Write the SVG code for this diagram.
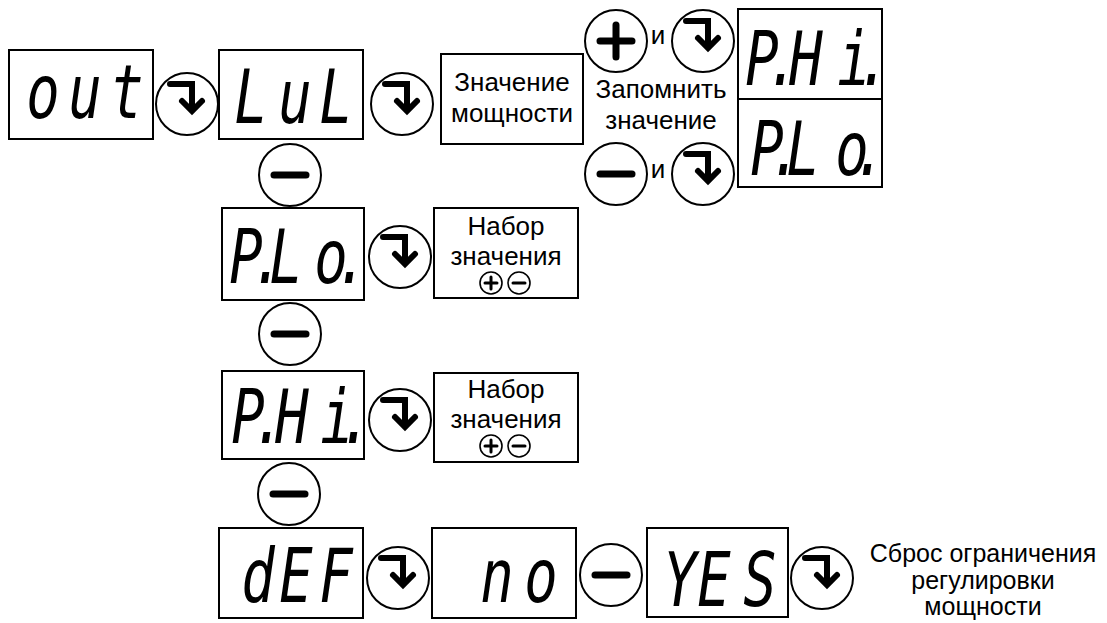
<svg xmlns="http://www.w3.org/2000/svg" xmlns:xlink="http://www.w3.org/1999/xlink" width="1107" height="623" viewBox="0 0 1107 623">
<style>
.box{fill:#fff;stroke:#000;stroke-width:2}
.btn{fill:#fff;stroke:#000;stroke-width:2}
.ico{fill:none;stroke:#000;stroke-width:6;stroke-linecap:round;stroke-linejoin:miter}
.sbtn{fill:#fff;stroke:#000;stroke-width:1.6}
.sico{fill:none;stroke:#000;stroke-width:3;stroke-linecap:round}
.lbl{font-family:"Liberation Sans",Arial,sans-serif;font-size:26px;text-anchor:middle;fill:#000}
.note{font-family:"Liberation Sans",Arial,sans-serif;font-size:25px;text-anchor:middle;fill:#000}
.seg{font-family:"DejaVu Sans Mono","Liberation Mono",monospace;font-style:oblique;font-size:74px;text-anchor:middle;fill:#000}
</style>
<defs>
<g id="enter"><circle class="btn" r="31"/><path class="ico" d="M-17,-20 H5 V5"/><path class="ico" d="M-5,-3 L5,7 L15,-3"/></g>
<g id="minus"><circle class="btn" r="31"/><path class="ico" d="M-16,0 H16" style="stroke-width:7"/></g>
<g id="plus"><circle class="btn" r="31"/><path class="ico" d="M-16,0 H16 M0,-16 V16" style="stroke-width:7"/></g>
<g id="splus"><circle class="sbtn" r="11"/><path class="sico" d="M-6,0 H6 M0,-6 V6"/></g>
<g id="sminus"><circle class="sbtn" r="11"/><path class="sico" d="M-6,0 H6"/></g>
</defs>

<g id="node-out"><rect class="box" x="9" y="50" width="144" height="89"/>
<text class="seg" transform="scale(0.75,1)" x="57.3 113.3 169.3" y="118">out</text></g>

<g id="node-LuL"><rect class="box" x="219" y="50" width="144" height="89"/>
<text class="seg" transform="scale(0.75,1)" x="334.7 393.3 448" y="123">LuL</text></g>

<g id="node-power"><rect class="box" x="441" y="54" width="142" height="90"/>
<text class="lbl" x="512" y="91">Значение</text>
<text class="lbl" x="512" y="122">мощности</text></g>

<g id="node-save"><text class="lbl" x="661" y="98">Запомнить</text>
<text class="lbl" x="661" y="129">значение</text>
<text class="lbl" x="658" y="44">и</text>
<text class="lbl" x="658" y="178">и</text></g>

<g id="node-PHi-top"><rect class="box" x="738" y="9" width="144" height="90"/>
<text class="seg" transform="scale(0.75,1)" x="1016 1044 1074.7 1138.7 1165.3" y="85">P.Hi.</text></g>

<g id="node-PLo-top"><rect class="box" x="738" y="99" width="144" height="88"/>
<text class="seg" transform="scale(0.75,1)" x="1022.7 1048 1070.7 1136 1160" y="175">P.Lo.</text></g>

<g id="node-PLo"><rect class="box" x="222" y="208" width="142" height="92"/>
<text class="seg" transform="scale(0.75,1)" x="328 357.3 381.3 441.3 469.3" y="283">P.Lo.</text></g>

<g id="node-set1"><rect class="box" x="434" y="208" width="144" height="90"/>
<text class="lbl" x="506" y="235">Набор</text>
<text class="lbl" x="506" y="265">значения</text>
<use xlink:href="#splus" x="491" y="283"/><use xlink:href="#sminus" x="519" y="283"/></g>

<g id="node-PHi"><rect class="box" x="222" y="371" width="142" height="88"/>
<text class="seg" transform="scale(0.75,1)" x="330.7 358.7 389.3 449.3 474.7" y="443">P.Hi.</text></g>

<g id="node-set2"><rect class="box" x="434" y="373" width="144" height="89"/>
<text class="lbl" x="506" y="398">Набор</text>
<text class="lbl" x="506" y="428">значения</text>
<use xlink:href="#splus" x="491" y="446"/><use xlink:href="#sminus" x="519" y="446"/></g>

<g id="node-dEF"><rect class="box" x="219" y="528" width="144" height="90"/>
<text class="seg" transform="scale(0.75,1)" x="344 394.7 448" y="602">dEF</text></g>

<g id="node-no"><rect class="box" x="432" y="528" width="144" height="90"/>
<text class="seg" transform="scale(0.75,1)" x="662.7 721.3" y="602">no</text></g>

<g id="node-YES"><rect class="box" x="647" y="528" width="141" height="89"/>
<text class="seg" transform="scale(0.75,1)" x="906.7 952 1013.3" y="606">YES</text></g>

<g id="node-reset"><text class="note" x="983" y="562">Сброс ограничения</text>
<text class="note" x="983" y="589">регулировки</text>
<text class="note" x="983" y="615">мощности</text></g>

<g id="connectors">
<use xlink:href="#enter" x="187" y="104"/>
<use xlink:href="#enter" x="402" y="104"/>
<use xlink:href="#minus" x="290" y="175"/>
<use xlink:href="#plus" x="616" y="41"/>
<use xlink:href="#enter" x="703" y="41"/>
<use xlink:href="#minus" x="616" y="174"/>
<use xlink:href="#enter" x="703" y="174"/>
<use xlink:href="#enter" x="400" y="257"/>
<use xlink:href="#minus" x="290" y="334"/>
<use xlink:href="#enter" x="400" y="420"/>
<use xlink:href="#minus" x="289" y="494"/>
<use xlink:href="#enter" x="398" y="578"/>
<use xlink:href="#minus" x="611" y="575"/>
<use xlink:href="#enter" x="822" y="578"/>
</g>
</svg>
